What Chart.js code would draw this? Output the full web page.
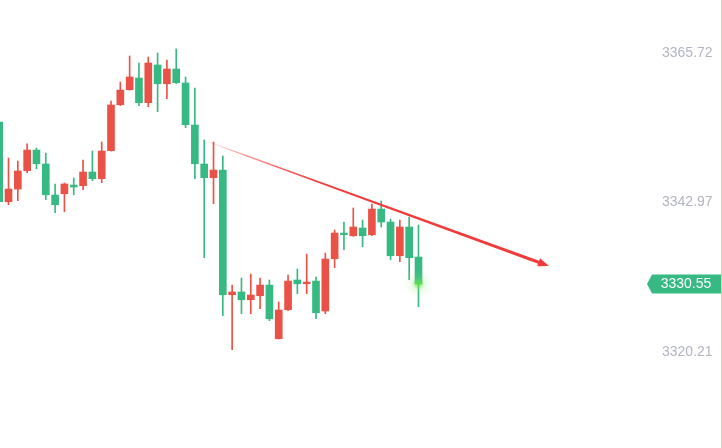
<!DOCTYPE html>
<html>
<head>
<meta charset="utf-8">
<script src="https://cdn.jsdelivr.net/npm/chart.js@4/dist/chart.umd.min.js"></script>
<style>
    html, body { margin: 0; padding: 0; background: #ffffff; }
    #wrap { width: 722px; height: 448px; position: relative; }
</style>
</head>
<body>
<div id="wrap"><canvas id="kline" width="722" height="448"></canvas></div>
<script>
// OHLC values (one entry per candle)
const opens  = [3355.24, 3343.09, 3345.02, 3347.82, 3350.97, 3348.84, 3344.11, 3344.31, 3345.63, 3345.53,
                3347.62, 3346.60, 3350.87, 3357.88, 3360.17, 3361.95, 3358.19, 3363.94, 3361.08, 3363.33,
                3361.19, 3354.78, 3348.84, 3346.75, 3347.92, 3328.90, 3329.32, 3328.14, 3328.75, 3330.38,
                3322.19, 3326.62, 3331.15, 3330.58, 3330.99, 3326.42, 3334.39, 3338.31, 3337.90, 3339.08,
                3338.05, 3341.97, 3339.99, 3334.85, 3339.23, 3334.65];
const highs  = [3355.85, 3349.75, 3349.29, 3351.93, 3351.28, 3350.51, 3345.79, 3345.94, 3346.70, 3349.45,
                3350.82, 3352.19, 3358.45, 3361.34, 3365.31, 3364.24, 3365.16, 3365.77, 3364.70, 3366.38,
                3362.11, 3360.43, 3352.50, 3352.19, 3350.06, 3330.38, 3331.45, 3332.06, 3331.45, 3331.15,
                3327.79, 3331.91, 3332.82, 3335.11, 3331.60, 3335.26, 3338.77, 3339.99, 3342.13, 3340.30,
                3342.74, 3343.19, 3340.45, 3340.30, 3340.75, 3339.53];
const lows   = [3342.58, 3342.63, 3343.24, 3347.51, 3348.12, 3343.39, 3341.41, 3341.56, 3344.15, 3344.92,
                3346.29, 3345.99, 3350.80, 3357.73, 3360.10, 3357.73, 3357.58, 3356.81, 3358.80, 3361.10,
                3354.37, 3346.60, 3334.55, 3342.78, 3325.70, 3320.52, 3326.01, 3326.01, 3326.77, 3324.94,
                3322.15, 3326.46, 3329.06, 3329.06, 3325.24, 3326.01, 3333.02, 3335.77, 3337.80, 3336.22,
                3337.90, 3339.23, 3334.24, 3333.94, 3331.19, 3327.07];
const closes = [3343.09, 3345.02, 3347.77, 3350.97, 3348.88, 3344.15, 3342.63, 3345.79, 3345.33, 3347.62,
                3346.60, 3350.82, 3357.84, 3360.12, 3362.11, 3358.19, 3364.24, 3361.08, 3363.33, 3361.24,
                3354.83, 3348.88, 3346.75, 3347.92, 3328.90, 3329.32, 3328.14, 3328.86, 3330.38, 3325.24,
                3326.57, 3330.99, 3330.58, 3330.84, 3326.16, 3334.35, 3338.31, 3338.05, 3339.23, 3337.90,
                3341.97, 3339.99, 3334.85, 3339.23, 3334.55, 3330.55];
const candleIndex = opens.map((_, i) => i);

// y axis labels and the current price tag
const priceTicks = [3320.21, 3342.97, 3365.72];
const lastPrice = 3330.55;

// hand drawn trend arrow (candle index, price)
const trendX = [21.9, 59.0];
const trendY = [3352.50, 3333.28];

const UP = '#eb5247';
const DOWN = '#36b982';
const candleColors = candleIndex.map(i => closes[i] >= opens[i] ? UP : DOWN);

// Extras: arrow, glow on last close, price tag, right border
const overlayPlugin = {
    id: 'overlay',
    afterDraw(chart) {
        const { ctx, scales: { x, y } } = chart;
        ctx.save();

        // trend arrow, tapering and fading in from the left
        const x0 = x.getPixelForValue(trendX[0]), y0 = y.getPixelForValue(trendY[0]);
        const x1 = x.getPixelForValue(trendX[1]), y1 = y.getPixelForValue(trendY[1]);
        const len = Math.hypot(x1 - x0, y1 - y0);
        const ux = (x1 - x0) / len, uy = (y1 - y0) / len;
        const nx = -uy, ny = ux;
        const headLen = 11, headW = 4.2;
        const bx = x1 - ux * headLen, by = y1 - uy * headLen;
        const w0 = 0.5, w1 = 1.6;
        const grad = ctx.createLinearGradient(x0, y0, x1, y1);
        grad.addColorStop(0, 'rgba(242, 59, 59, 0)');
        grad.addColorStop(0.12, 'rgba(242, 59, 59, 0.55)');
        grad.addColorStop(0.35, 'rgba(242, 59, 59, 1)');
        grad.addColorStop(1, 'rgba(242, 59, 59, 1)');
        ctx.fillStyle = grad;
        ctx.beginPath();
        ctx.moveTo(x0 + nx * w0, y0 + ny * w0);
        ctx.lineTo(bx + nx * w1, by + ny * w1);
        ctx.lineTo(bx + nx * headW, by + ny * headW);
        ctx.lineTo(x1, y1);
        ctx.lineTo(bx - nx * headW, by - ny * headW);
        ctx.lineTo(bx - nx * w1, by - ny * w1);
        ctx.lineTo(x0 - nx * w0, y0 - ny * w0);
        ctx.closePath();
        ctx.fill();

        // glow on the last close
        const lx = x.getPixelForValue(candleIndex[candleIndex.length - 1]);
        const ly = y.getPixelForValue(lastPrice);
        const glow = ctx.createRadialGradient(lx, ly, 0, lx, ly, 15);
        glow.addColorStop(0, 'rgba(90, 225, 50, 0.95)');
        glow.addColorStop(0.18, 'rgba(110, 228, 80, 0.6)');
        glow.addColorStop(0.45, 'rgba(150, 235, 130, 0.18)');
        glow.addColorStop(1, 'rgba(180, 240, 170, 0)');
        ctx.fillStyle = glow;
        ctx.beginPath();
        ctx.arc(lx, ly, 15, 0, Math.PI * 2);
        ctx.fill();

        // current price tag
        const right = chart.width;
        const tagLeft = y.left - 9;
        ctx.fillStyle = DOWN;
        ctx.beginPath();
        ctx.moveTo(tagLeft, ly);
        ctx.lineTo(tagLeft + 5, ly - 9.5);
        ctx.lineTo(right, ly - 9.5);
        ctx.lineTo(right, ly + 9.5);
        ctx.lineTo(tagLeft + 5, ly + 9.5);
        ctx.closePath();
        ctx.fill();
        ctx.fillStyle = '#ffffff';
        ctx.font = '14px "Liberation Sans", Arial, sans-serif';
        ctx.textAlign = 'center';
        ctx.textBaseline = 'middle';
        ctx.fillText(lastPrice.toFixed(2), tagLeft + 39, ly + 0.5);

        // thin border on the right edge
        ctx.strokeStyle = '#f7c39c';
        ctx.lineWidth = 1;
        ctx.beginPath();
        ctx.moveTo(right - 0.5, 0);
        ctx.lineTo(right - 0.5, chart.height);
        ctx.stroke();

        ctx.restore();
    }
};

new Chart(document.getElementById('kline'), {
    type: 'bar',
    data: {
        datasets: [
            {
                label: 'body',
                data: candleIndex.map(i => ({ x: i, y: [opens[i], closes[i]] })),
                backgroundColor: candleColors,
                borderWidth: 0,
                barThickness: 7,
                minBarLength: 1,
                grouped: false,
                order: 1
            },
            {
                label: 'wick',
                data: candleIndex.map(i => ({ x: i, y: [lows[i], highs[i]] })),
                backgroundColor: candleColors,
                borderWidth: 0,
                barThickness: 1,
                grouped: false,
                order: 2
            }
        ]
    },
    options: {
        responsive: false,
        animation: false,
        devicePixelRatio: 1,
        layout: { padding: 0 },
        plugins: {
            legend: { display: false },
            tooltip: { enabled: false }
        },
        scales: {
            x: {
                type: 'linear',
                offset: false,
                min: 0.086,
                max: 70.49,
                display: false
            },
            y: {
                position: 'right',
                min: 3305.53,
                max: 3373.85,
                grid: { display: false, drawTicks: false },
                border: { display: false },
                ticks: {
                    color: '#b2b4c2',
                    padding: 6,
                    font: { size: 14, family: '"Liberation Sans", Arial, sans-serif' },
                    callback: value => Number(value).toFixed(2)
                },
                afterBuildTicks: scale => {
                    scale.ticks = priceTicks.map(v => ({ value: v }));
                },
                afterFit: scale => {
                    scale.width = 66;
                    scale.paddingTop = 0;
                    scale.paddingBottom = 0;
                }
            }
        }
    },
    plugins: [overlayPlugin]
});
</script>
</body>
</html>
